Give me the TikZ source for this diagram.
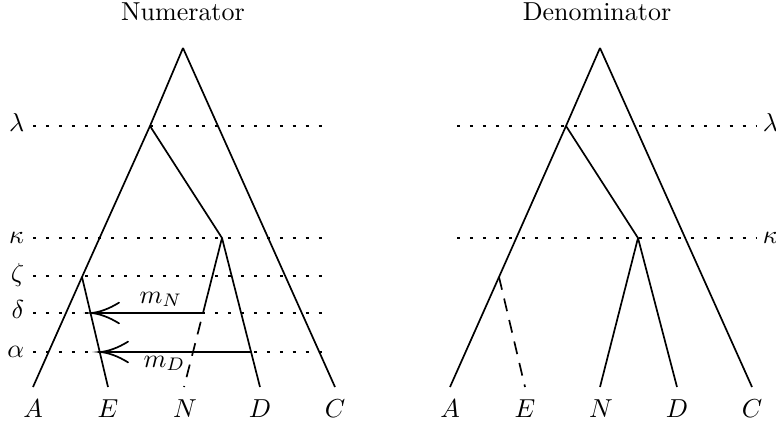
\documentclass[tikz,border=0pt]{standalone}
\usepackage{amsmath, amssymb}
\usepackage{tikz}
\usetikzlibrary{arrows.meta}

% long curved barb for the migration arrows
\pgfdeclarearrow{
  name = migtip,
  setup code = {
    \pgfarrowssettipend{0pt}
    \pgfarrowssetlineend{-0.3pt}
    \pgfarrowsupperhullpoint{-10.8pt}{4pt}
    \pgfarrowsupperhullpoint{0pt}{0pt}
  },
  drawing code = {
    \pgfsetdash{}{0pt}
    \pgfsetroundcap
    \pgfpathmoveto{\pgfqpoint{-10.8pt}{4pt}}
    \pgfpathcurveto{\pgfqpoint{-7pt}{1.6pt}}{\pgfqpoint{-3pt}{0.2pt}}{\pgfqpoint{0pt}{0pt}}
    \pgfpathcurveto{\pgfqpoint{-3pt}{-0.2pt}}{\pgfqpoint{-7pt}{-1.6pt}}{\pgfqpoint{-10.8pt}{-4pt}}
    \pgfusepathqstroke
  }
}

\begin{document}
\begin{tikzpicture}[
    x=0.385pt, y=-0.385pt,
    line width=0.65pt,
    lvl/.style={line width=1.1pt, dash pattern=on 1.1pt off 3.9pt},
    mig/.style={-migtip},
    lost/.style={dash pattern=on 5pt off 3.5pt},
    leaf/.style={anchor=base}
]

\useasboundingbox (0,0) rectangle (776,425);

% Numerator
\node (numt) at (183,12) {Numerator};

\foreach \y/\g in {126/\lambda, 238/\kappa, 276/\zeta, 313/\delta, 352/\alpha} {
    \node[anchor=mid east, inner sep=0pt] (l\y) at (25,\y) {$\g$};
    \draw[lvl] (33,\y) -- (330,\y);
}

\coordinate (root) at (183,48);
\coordinate (lam) at (150,126);
\coordinate (kap) at (222,238);
\coordinate (zet) at (82,277);
\coordinate (nmig) at (203,313);
\coordinate (emN) at (91,313);
\coordinate (dmig) at (251,352);
\coordinate (emD) at (100,352);

\coordinate (a) at (33,387);
\coordinate (e) at (108,387);
\coordinate (n) at (184,387);
\coordinate (d) at (260,387);
\coordinate (c) at (335,387);

\draw (root) -- (lam) -- (zet) -- (a);
\draw (root) -- (c);
\draw (lam) -- (kap) -- (d);
\draw (zet) -- (e);
\draw (kap) -- (nmig);
\draw[lost, dash phase=5pt] (nmig) -- (n);

\draw[mig] (nmig) -- (emN);
\draw[mig] (dmig) -- (emD);
\node[anchor=base west] (mN) at (130,303) {$m_N$};
\node[anchor=base west] (mD) at (134,367) {$m_D$};

\node[leaf] (A) at (33,417) {$A$};
\node[leaf] (E) at (108,417) {$E$};
\node[leaf] (N) at (185,417) {$N$};
\node[leaf] (D) at (260,417) {$D$};
\node[leaf] (C) at (335,417) {$C$};

% Denominator
\node (dent) at (597,12) {Denominator};

\foreach \y/\g in {126/\lambda, 238/\kappa} {
    \node[anchor=mid west, inner sep=0pt] (r\y) at (762,\y) {$\g$};
    \draw[lvl] (457,\y) -- (756,\y);
}

\coordinate (root2) at (600,48);
\coordinate (lam2) at (566,126);
\coordinate (kap2) at (638,238);
\coordinate (zet2) at (499,277);

\coordinate (a2) at (450,387);
\coordinate (e2) at (525,387);
\coordinate (n2) at (600,387);
\coordinate (d2) at (677,387);
\coordinate (c2) at (752,387);

\draw (root2) -- (lam2) -- (zet2) -- (a2);
\draw (root2) -- (c2);
\draw (lam2) -- (kap2) -- (d2);
\draw (kap2) -- (n2);
\draw[lost] (zet2) -- (e2);

\node[leaf] (A2) at (450,417) {$A$};
\node[leaf] (E2) at (525,417) {$E$};
\node[leaf] (N2) at (601,417) {$N$};
\node[leaf] (D2) at (677,417) {$D$};
\node[leaf] (C2) at (752,417) {$C$};

\end{tikzpicture}
\end{document}
